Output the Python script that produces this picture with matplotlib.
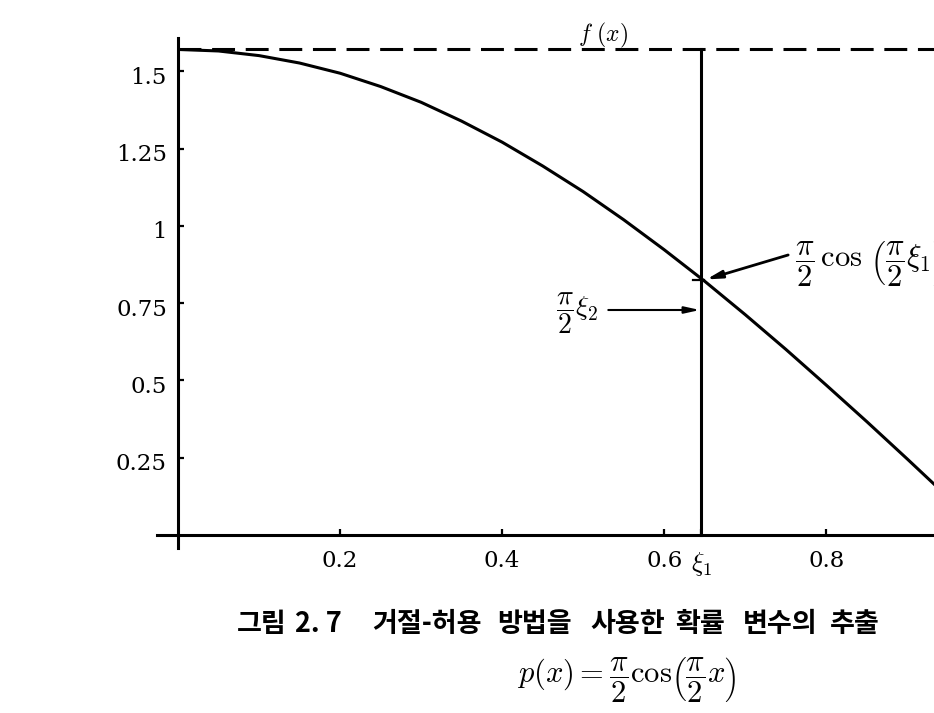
import numpy as np
import matplotlib
matplotlib.use("Agg")
import matplotlib.pyplot as plt
import matplotlib.transforms as mtransforms

# values
x_vals = [0.00, 0.05, 0.10, 0.15, 0.20, 0.25, 0.30, 0.35, 0.40, 0.45,
          0.50, 0.55, 0.60, 0.65, 0.70, 0.75, 0.80, 0.85, 0.90, 0.95]
p_vals = [1.571, 1.566, 1.551, 1.527, 1.494, 1.451, 1.400, 1.339, 1.271, 1.194,
          1.111, 1.020, 0.923, 0.821, 0.713, 0.601, 0.485, 0.367, 0.246, 0.123]
p_max = 1.571          # dashed bound f(x)
xi1 = 0.646            # sampled x position
p_at_xi1 = 0.826       # curve height at xi1
xi2_level = 0.728      # pi/2 * xi2

x_ticks = [0.2, 0.4, 0.6, xi1, 0.8]
x_ticklabels = ["0.2", "0.4", "0.6", r"$\xi_1$", "0.8"]
y_ticks = [0.25, 0.5, 0.75, 1.0, 1.25, 1.5]
y_ticklabels = ["0.25", "0.5", "0.75", "1", "1.25", "1.5"]

caption_words = ["그림", "2. 7", "거절-허용", "방법을", "사용한", "확률", "변수의", "추출"]
caption_x = [237, 295, 372, 497, 590, 675, 743, 830]   # left edge of each word, px
caption_formula = r"$p(x)=\dfrac{\pi}{2}\cos\!\left(\dfrac{\pi}{2}x\right)$"

plt.rcParams["mathtext.fontset"] = "cm"

W, H = 934, 713
fig = plt.figure(figsize=(W / 100, H / 100), dpi=100)
ax = fig.add_axes([157 / W, 1 - 548 / H, (W - 157) / W, 510 / H])
ax.set_xlim(-0.026, 0.933)
ax.set_ylim(-0.042, 1.608)

lw = 2.2
ax.plot(x_vals, p_vals, color="black", lw=lw, solid_capstyle="butt")
ax.plot([0, 1.0], [p_max, p_max], color="black", lw=lw, dashes=(7.5, 3.5))
ax.plot([xi1, xi1], [0, p_max], color="black", lw=lw)
ax.plot([xi1 - 0.011, xi1 + 0.003], [p_at_xi1, p_at_xi1], color="black", lw=1.6)

# axes through the origin, Mathematica style
for side in ["top", "right"]:
    ax.spines[side].set_visible(False)
ax.spines["left"].set_position(("data", 0))
ax.spines["bottom"].set_position(("data", 0))
for side in ["left", "bottom"]:
    ax.spines[side].set_linewidth(lw)

ax.set_xticks(x_ticks)
ax.set_xticklabels(x_ticklabels)
ax.set_yticks(y_ticks)
ax.set_yticklabels(y_ticklabels)
ax.tick_params(axis="both", direction="in", length=4, width=1.6, labelsize=16.5)
ax.tick_params(axis="x", pad=11)
ax.tick_params(axis="y", pad=8)
for lab in ax.get_xticklabels() + ax.get_yticklabels():
    lab.set_fontfamily("DejaVu Serif")
ax.get_xticklabels()[3].set_fontsize(19)
# labels on the y axis sit a little below their ticks in the original
shift = mtransforms.ScaledTranslation(0, -4 / 100, fig.dpi_scale_trans)
for lab in ax.get_yticklabels():
    lab.set_transform(lab.get_transform() + shift)

ax.text(0.525, 1.617, r"$f\ (x)$", fontsize=17, ha="center", va="center")

# annotation arrows
ax.annotate("", xy=(0.652, 0.827), xytext=(0.753, 0.906),
            arrowprops=dict(arrowstyle="-|>,head_length=0.9,head_width=0.22",
                            color="black", lw=2.0, shrinkA=0, shrinkB=0))
ax.text(0.762, 0.880, r"$\dfrac{\pi}{2}\,\cos\,\left(\dfrac{\pi}{2}\xi_1\right)$",
        fontsize=22, ha="left", va="center")

ax.annotate("", xy=(0.644, xi2_level), xytext=(0.531, xi2_level),
            arrowprops=dict(arrowstyle="-|>,head_length=0.9,head_width=0.2",
                            color="black", lw=1.5, shrinkA=0, shrinkB=0))
ax.text(0.519, 0.718, r"$\dfrac{\pi}{2}\xi_2$", fontsize=20, ha="right", va="center")

for word, px in zip(caption_words, caption_x):
    fig.text(px / W, 1 - 624 / H, word, fontsize=19.5, fontweight="bold",
             family=["Noto Sans CJK KR", "DejaVu Sans"], ha="left", va="center")
fig.text(517 / W, 1 - 680 / H, caption_formula, fontsize=22,
         ha="left", va="center")

fig.savefig("out.png", dpi=100)
